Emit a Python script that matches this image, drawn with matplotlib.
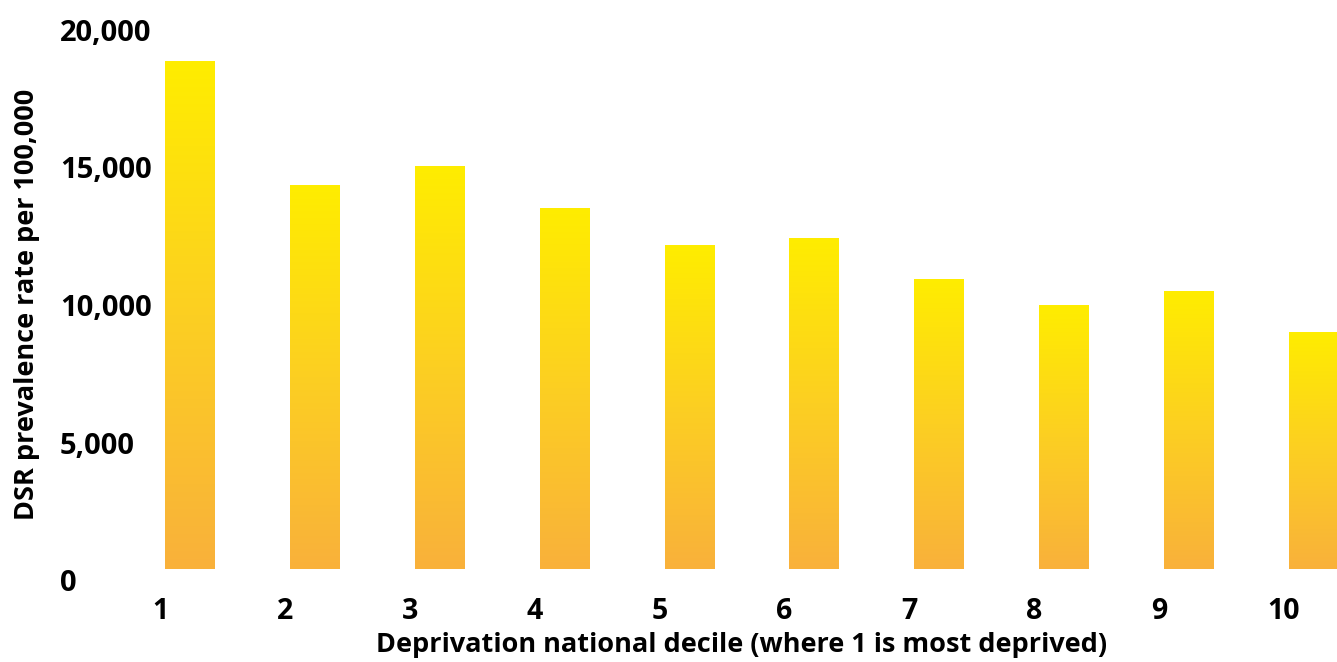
"""Bar chart of DSR prevalence by deprivation decile, with gradient-filled bars."""

import matplotlib

matplotlib.use("Agg")
import matplotlib.pyplot as plt
import matplotlib.transforms as mtransforms
import numpy as np
from matplotlib.colors import LinearSegmentedColormap

deciles = ["1", "2", "3", "4", "5", "6", "7", "8", "9", "10"]
rates = [18470, 13960, 14660, 13130, 11780, 12040, 10550, 9600, 10110, 8620]
y_ticks = [0, 5000, 10000, 15000, 20000]
y_tick_labels = ["0", "5,000", "10,000", "15,000", "20,000"]

FONT = ["Open Sans", "DejaVu Sans"]
plt.rcParams["font.family"] = FONT
plt.rcParams["font.weight"] = "bold"

fig = plt.figure(figsize=(13.37, 6.62), dpi=100)
ax = fig.add_axes([130 / 1337, 93 / 662, 1 - 130 / 1337, 550 / 662])

x = np.arange(len(deciles))
bars = ax.bar(x, rates, width=0.4, align="edge", color="#F9B13B", linewidth=0)

# vertical yellow -> orange fade, one per bar, clipped to the bar shape
grad_cmap = LinearSegmentedColormap.from_list("fade", ["#F9B13B", "#FCCF22", "#FFED00"])
gradient = np.linspace(0, 1, 256).reshape(-1, 1)
for bar in bars:
    x0, w, h = bar.get_x(), bar.get_width(), bar.get_height()
    im = ax.imshow(gradient, extent=[x0, x0 + w, 0, h], origin="lower",
                   aspect="auto", cmap=grad_cmap, zorder=3)
    im.set_clip_path(bar)

ax.set_xlim(-0.28, 9.384)
ax.set_ylim(0, 20000)

for side in ["top", "right", "bottom", "left"]:
    ax.spines[side].set_visible(False)

ax.set_xticks(x - 0.04)
ax.set_xticklabels(deciles, fontsize=20.5, fontweight="bold")
ax.set_yticks(y_ticks)
ax.set_yticklabels(y_tick_labels, fontsize=21, fontweight="bold")
ax.tick_params(axis="x", length=0, pad=20)
ax.tick_params(axis="y", length=0, pad=50.4)

# y labels are left-aligned and sit a little below their gridline value
shift = mtransforms.ScaledTranslation(0, -11 / 100, fig.dpi_scale_trans)
for lbl in ax.get_yticklabels():
    lbl.set_horizontalalignment("left")
    lbl.set_transform(lbl.get_transform() + shift)

fig.text(27 / 1337, 1 - 304 / 662, "DSR prevalence rate per 100,000",
         rotation=90, ha="center", va="center", fontsize=19.5, fontweight="bold")
fig.text(742 / 1337, 1 - 645 / 662,
         "Deprivation national decile (where 1 is most deprived)",
         ha="center", va="center", fontsize=19.5, fontweight="bold")

fig.savefig("out.png", dpi=100)
